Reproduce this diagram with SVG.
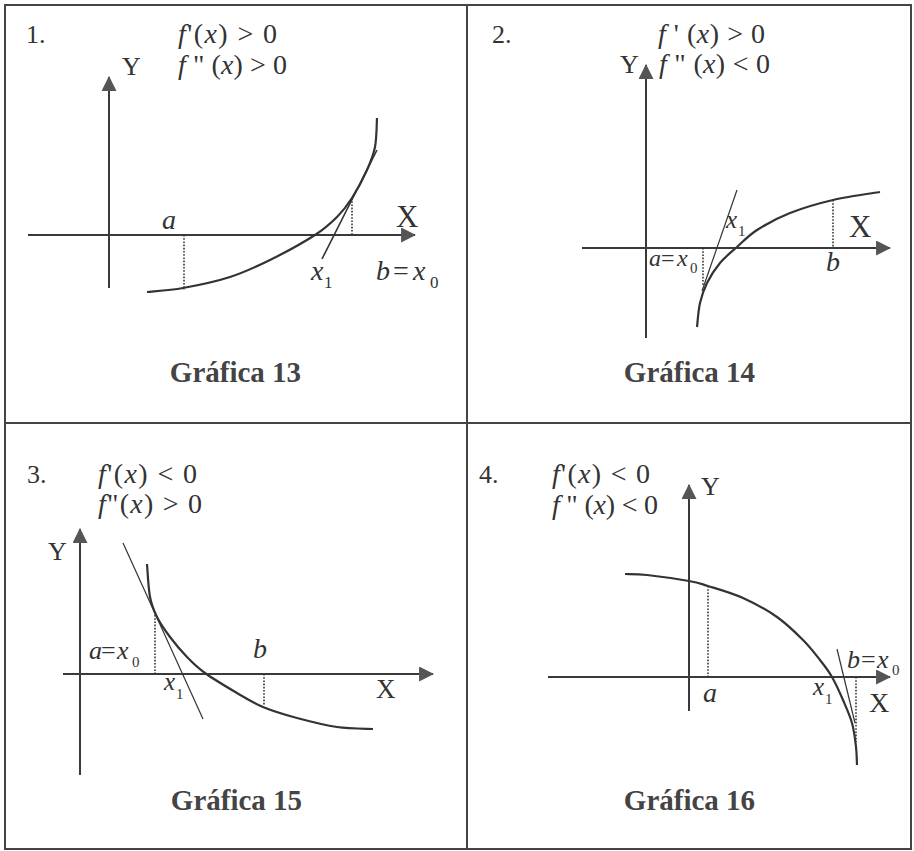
<svg xmlns="http://www.w3.org/2000/svg" width="914" height="851" viewBox="0 0 914 851">
<style>
.frame{fill:none;stroke:#444;stroke-width:2}
.axis{fill:none;stroke:#3a3a3a;stroke-width:2;marker-end:url(#arr)}
.curve{fill:none;stroke:#333;stroke-width:2.2}
.tan{fill:none;stroke:#333;stroke-width:1.2}
.dot{fill:none;stroke:#333;stroke-width:1.6;stroke-dasharray:1.6 1.6}
text{font-family:"Liberation Serif","Times New Roman",serif;fill:#333}
.num{font-size:26px}
.fx{font-size:28px}
.it{font-style:italic}
.lbl{font-size:28px;font-style:italic}
.sub{font-size:17px}
.ax{font-size:26px}
.axx{font-size:31px}
.title{font-size:29px;font-weight:bold;fill:#444;text-anchor:middle}
</style>
<defs>
<marker id="arr" markerUnits="userSpaceOnUse" markerWidth="15" markerHeight="15" viewBox="0 0 14 14" refX="13" refY="7" orient="auto">
<path d="M0,0 L14,7 L0,14 z" fill="#555"/>
</marker>
</defs>
<rect x="0" y="0" width="914" height="851" fill="#fff"/>
<g id="frame">
<rect class="frame" x="5" y="5" width="906" height="844"/>
<line class="frame" x1="467" y1="5" x2="467" y2="849"/>
<line class="frame" x1="5" y1="423" x2="911" y2="423"/>
</g>

<g id="panel-1">
<text class="num" x="26" y="43">1.</text>
<text class="fx" x="178" y="43" textLength="99" lengthAdjust="spacing"><tspan class="it">f</tspan>'(<tspan class="it">x</tspan>) &gt; 0</text>
<text class="fx" x="178" y="74" textLength="109" lengthAdjust="spacing"><tspan class="it">f</tspan> " (<tspan class="it">x</tspan>) &gt; 0</text>
<text class="ax" x="122" y="75">Y</text>
<text class="axx" x="396" y="227">X</text>
<g class="connectors">
<line class="axis" x1="109" y1="288" x2="109" y2="77"/>
<line class="axis" x1="28" y1="235" x2="415" y2="235"/>
</g>
<line class="dot" x1="184" y1="235" x2="184" y2="290"/>
<line class="dot" x1="352" y1="198" x2="352" y2="235"/>
<path class="curve" d="M147,292 C153,291.3 169.2,290.5 183,288 C196.8,285.5 215.5,281.7 230,277 C244.5,272.3 255.8,267 270,260 C284.2,253 303.8,242.2 315,235 C326.2,227.8 330.8,223.2 337,217 C343.2,210.8 347,205.8 352,198 C357,190.2 363.2,178.5 367,170 C370.8,161.5 373.3,155.7 375,147 C376.7,138.3 376.7,122.8 377,118"/>
<line class="tan" style="stroke-width:1.6" x1="377" y1="150" x2="322" y2="259"/>
<text class="lbl" x="162" y="229">a</text>
<text class="lbl" x="311" y="280">x</text><text class="sub" x="324" y="288">1</text>
<text class="lbl" x="376" y="280">b</text><text class="fx" x="393" y="280">=</text><text class="lbl" x="413" y="280">x</text><text class="sub" x="430" y="288">0</text>
<text class="title" x="235.5" y="382">Gráfica 13</text>
</g>

<g id="panel-2">
<text class="num" x="492" y="43">2.</text>
<text class="fx" x="658" y="43" textLength="107" lengthAdjust="spacing"><tspan class="it">f</tspan> ' (<tspan class="it">x</tspan>) &gt; 0</text>
<text class="fx" x="659" y="73" textLength="111" lengthAdjust="spacing"><tspan class="it">f</tspan> " (<tspan class="it">x</tspan>) &lt; 0</text>
<text class="ax" x="620" y="73">Y</text>
<text class="axx" x="849" y="237">X</text>
<g class="connectors">
<line class="axis" x1="646" y1="338" x2="646" y2="65"/>
<line class="axis" x1="582" y1="248" x2="890" y2="248"/>
</g>
<line class="dot" x1="703" y1="248" x2="703" y2="286"/>
<line class="dot" x1="833" y1="200" x2="833" y2="248"/>
<path class="curve" d="M697,327 C697.5,323 698.3,310.3 700,303 C701.7,295.7 703.7,289.7 707,283 C710.3,276.3 715,269 720,263 C725,257 730.8,252.5 737,247 C743.2,241.5 748.2,235.7 757,230 C765.8,224.3 777.3,218 790,213 C802.7,208 818,203.5 833,200 C848,196.5 872.2,193.3 880,192"/>
<line class="tan" x1="737" y1="190" x2="702" y2="291"/>
<text class="lbl" style="font-size:24px" x="649" y="266">a</text><text class="fx" style="font-size:24px" x="661" y="266">=</text><text class="lbl" style="font-size:24px" x="677" y="266">x</text><text class="sub" style="font-size:15px" x="690" y="273">0</text>
<text class="lbl" style="font-size:25px" x="726" y="228">x</text><text class="sub" style="font-size:15px" x="738" y="236">1</text>
<text class="lbl" x="826" y="271">b</text>
<text class="title" x="689.5" y="382">Gráfica 14</text>
</g>

<g id="panel-3">
<text class="num" x="27" y="483">3.</text>
<text class="fx" x="98" y="483" textLength="99" lengthAdjust="spacing"><tspan class="it">f</tspan>'(<tspan class="it">x</tspan>) &lt; 0</text>
<text class="fx" x="98" y="513" textLength="104" lengthAdjust="spacing"><tspan class="it">f</tspan>"(<tspan class="it">x</tspan>) &gt; 0</text>
<text class="ax" x="48" y="560">Y</text>
<text class="ax" style="font-size:27px" x="376" y="698">X</text>
<g class="connectors">
<line class="axis" x1="80" y1="775" x2="80" y2="529"/>
<line class="axis" x1="63" y1="674" x2="433" y2="674"/>
</g>
<line class="dot" x1="155" y1="615" x2="155" y2="674"/>
<line class="dot" x1="264" y1="674" x2="264" y2="705"/>
<path class="curve" d="M147,564 C147.5,569.5 148.3,588.2 150,597 C151.7,605.8 153.7,610.3 157,617 C160.3,623.7 165,630.3 170,637 C175,643.7 181.2,651 187,657 C192.8,663 196.7,667 205,673 C213.3,679 227.3,687.3 237,693 C246.7,698.7 253,702.8 263,707 C273,711.2 284.7,714.7 297,718 C309.3,721.3 324.3,725.2 337,727 C349.7,728.8 367,728.7 373,729"/>
<line class="tan" x1="123" y1="543" x2="203" y2="719"/>
<text class="lbl" style="font-size:26px" x="89" y="659">a</text><text class="fx" style="font-size:26px" x="101" y="659">=</text><text class="lbl" style="font-size:26px" x="117" y="659">x</text><text class="sub" style="font-size:15px" x="132" y="667">0</text>
<text class="lbl" style="font-size:25px" x="164" y="690">x</text><text class="sub" style="font-size:15px" x="176" y="699">1</text>
<text class="lbl" x="253" y="658">b</text>
<text class="title" x="236.5" y="810">Gráfica 15</text>
</g>

<g id="panel-4">
<text class="num" x="479" y="483">4.</text>
<text class="fx" x="552" y="483" textLength="98" lengthAdjust="spacing"><tspan class="it">f</tspan>'(<tspan class="it">x</tspan>) &lt; 0</text>
<text class="fx" x="552" y="514" textLength="106" lengthAdjust="spacing"><tspan class="it">f</tspan> " (<tspan class="it">x</tspan>) &lt; 0</text>
<text class="ax" x="701" y="495">Y</text>
<text class="axx" style="font-size:28px" x="869" y="712">X</text>
<g class="connectors">
<line class="axis" x1="689" y1="711" x2="689" y2="485"/>
<line class="axis" x1="548" y1="677" x2="890" y2="677"/>
</g>
<line class="dot" x1="708" y1="586" x2="708" y2="677"/>
<line class="dot" x1="856" y1="677" x2="856" y2="742"/>
<path class="curve" d="M625,574 C628.7,574.2 636.3,573.8 647,575 C657.7,576.2 678.8,579.2 689,581 C699.2,582.8 699,583.2 708,586 C717,588.8 731.5,592.8 743,598 C754.5,603.2 767,610 777,617 C787,624 795.8,632.8 803,640 C810.2,647.2 815.2,653.8 820,660 C824.8,666.2 828.2,670.3 832,677 C835.8,683.7 839.7,692.3 843,700 C846.3,707.7 849.8,715.2 852,723 C854.2,730.8 855.2,740 856,747 C856.8,754 856.8,762 857,765"/>
<line class="tan" x1="837" y1="649" x2="855" y2="723"/>
<text class="lbl" x="703" y="702">a</text>
<text class="lbl" style="font-size:25px" x="813" y="695">x</text><text class="sub" style="font-size:15px" x="825" y="704">1</text>
<text class="lbl" style="font-size:26px" x="847" y="668">b</text><text class="fx" style="font-size:26px" x="861" y="668">=</text><text class="lbl" style="font-size:26px" x="877" y="668">x</text><text class="sub" style="font-size:15px" x="892" y="675">0</text>
<text class="title" x="689.5" y="810">Gráfica 16</text>
</g>
</svg>
